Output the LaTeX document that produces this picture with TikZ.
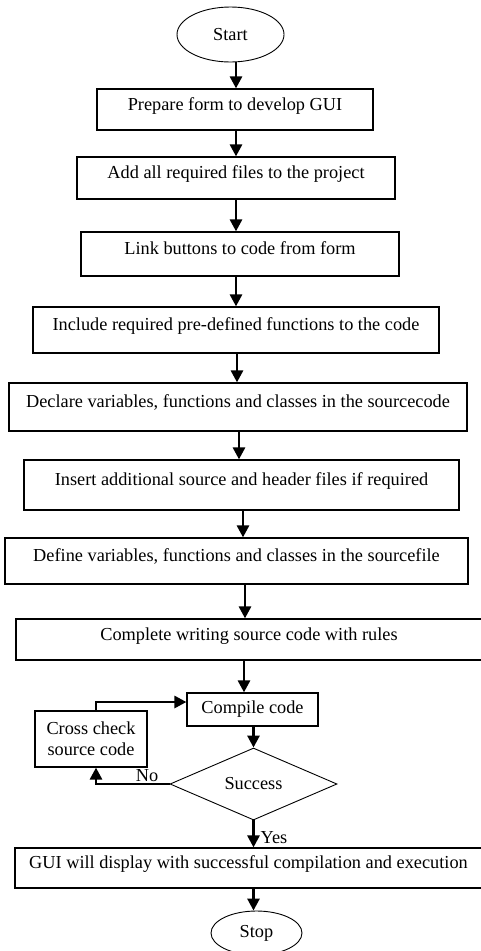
\documentclass[tikz,border=0pt]{standalone}
\usepackage{fontspec}
\setmainfont{Liberation Serif}
\usetikzlibrary{shapes.geometric,arrows.meta}
\begin{document}
\begin{tikzpicture}[x=1pt,y=-1pt,
  font=\fontsize{18.3}{21}\selectfont,
  stepbox/.style={draw,line width=1.2pt,rectangle,inner sep=0pt,text height=12pt,text depth=11pt},
  plainbox/.style={draw,line width=1.2pt,rectangle,inner sep=0pt,align=center},
  term/.style={draw,line width=0.9pt,ellipse,inner sep=0pt},
  decision/.style={draw,line width=0.9pt,diamond,inner sep=0pt},
  arr/.style={line width=2.8pt,-{Triangle[width=12pt,length=12pt]}}]
\useasboundingbox (0,0) rectangle (481,951);

% terminals and process steps
\node[term, minimum width=107pt, minimum height=55pt] (start) at (230.5,34.5) {Start};
\node[stepbox, minimum width=276pt, minimum height=41pt] (b1) at (235,109.5) {Prepare form to develop GUI};
\node[stepbox, minimum width=318pt, minimum height=42pt] (b2) at (236,178) {Add all required files to the project};
\node[stepbox, minimum width=318pt, minimum height=44pt] (b3) at (240,254) {Link buttons to code from form};
\node[stepbox, minimum width=406pt, minimum height=46pt] (b4) at (236,330) {Include required pre-defined functions to the code};
\node[stepbox, minimum width=458pt, minimum height=48pt] (b5) at (238,407) {Declare variables, functions and classes in the sourcecode};
\node[stepbox, minimum width=435pt, minimum height=50pt] (b6) at (241.5,485) {Insert additional source and header files if required};
\node[stepbox, minimum width=463pt, minimum height=46pt] (b7) at (236.5,561) {Define variables, functions and classes in the sourcefile};
\node[stepbox, minimum width=466pt, minimum height=41pt] (b8) at (249,639.5) {Complete writing source code with rules};
\node[plainbox, minimum width=131pt, minimum height=33pt] (compile) at (252.5,709.5) {Compile code};
\node[plainbox, minimum width=112pt, minimum height=56pt] (cross) at (91,739) {Cross check\\source code};
\node[decision, minimum width=167pt, minimum height=72pt] (dia) at (253.5,784) {Success};
\node[stepbox, minimum width=467pt, minimum height=40pt] (gui) at (248.5,868) {GUI will display with successful compilation and execution};
\node[term, minimum width=91pt, minimum height=44pt] (stop) at (256.5,933) {Stop};

% branch labels
\node (no) at (147,776) {No};
\node (yes) at (274,838) {Yes};

% main flow
\draw[arr] ([xshift=5.5pt]start.south) -- ([xshift=5.5pt]start.south |- b1.north);
\draw[arr] ([xshift=1pt]b1.south) -- ([xshift=1pt]b1.south |- b2.north);
\draw[arr] (b2.south) -- (b2.south |- b3.north);
\draw[arr] ([xshift=-4pt]b3.south) -- ([xshift=-4pt]b3.south |- b4.north);
\draw[arr] ([xshift=1pt]b4.south) -- ([xshift=1pt]b4.south |- b5.north);
\draw[arr] ([xshift=1pt]b5.south) -- ([xshift=1pt]b5.south |- b6.north);
\draw[arr] ([xshift=1.5pt]b6.south) -- ([xshift=1.5pt]b6.south |- b7.north);
\draw[arr] ([xshift=8.5pt]b7.south) -- ([xshift=8.5pt]b7.south |- b8.north);
\draw[arr] ([xshift=-5pt]b8.south) -- ([xshift=-5pt]b8.south |- compile.north);
\draw[arr] (compile.south -| dia.north) -- (dia.north);
\draw[arr] (dia.south) -- (dia.south |- gui.north);
\draw[arr] ([xshift=-3pt]stop.north |- gui.south) -- ([xshift=-3pt]stop.north);

% retry loop
\coordinate (looptop) at (96,702);
\draw[arr] (cross.north -| looptop) |- (compile.west |- looptop);
\draw[arr] (dia.west) -| (cross.south -| looptop);
\end{tikzpicture}
\end{document}
